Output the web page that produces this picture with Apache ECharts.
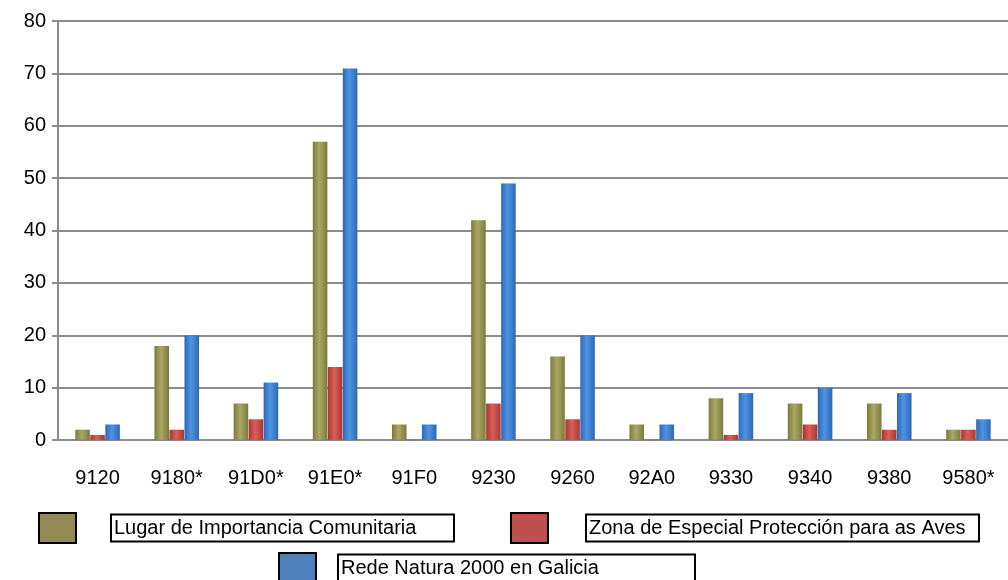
<!DOCTYPE html>
<html><head><meta charset="utf-8">
<script src="https://cdn.jsdelivr.net/npm/echarts@6/dist/echarts.min.js"></script>
<style>html,body{margin:0;padding:0;background:#fff}#c{width:1008px;height:580px}</style>
</head><body><div id="c"></div>
<script>
const categories = ['9120','9180*','91D0*','91E0*','91F0','9230','9260','92A0','9330','9340','9380','9580*'];
const seriesNames = ['Lugar de Importancia Comunitaria','Zona de Especial Protección para as Aves','Rede Natura 2000 en Galicia'];
const lic  = [2,18,7,57,3,42,16,3,8,7,7,2];
const zepa = [1,2,4,14,0,7,4,0,1,3,2,2];
const rede = [3,20,11,71,3,49,20,3,9,10,9,4];
const yTicks = [0,10,20,30,40,50,60,70,80];

const FONT = "'Liberation Sans Narrow','Liberation Sans',Arial,sans-serif";
function grad(edge, mid){
  return new echarts.graphic.LinearGradient(0,0,1,0,[
    {offset:0,color:edge},{offset:0.45,color:mid},{offset:1,color:edge}]);
}
const barColors = [grad('#7c7a3a','#aaa864'), grad('#a63632','#dc5e58'), grad('#2c68b6','#4f94e4')];
const legendColors = ['#948b54','#c0504d','#4f81bd'];

function mkLegend(i, left, top, gapW, boxW){
  return {
    data:[{name:seriesNames[i], itemStyle:{color:legendColors[i], borderColor:'#000', borderWidth:2}}],
    left:left, top:top, orient:'horizontal', padding:0,
    itemWidth:37, itemHeight:30, icon:'rect', selectedMode:false,
    formatter: n => '{g|}{b|' + n + '}',
    textStyle:{
      fontFamily:FONT, fontSize:20, color:'#000',
      rich:{
        g:{width:gapW},
        b:{width:boxW, height:27, lineHeight:27, borderColor:'#000', borderWidth:2,
           padding:[0,0,0,3], fontFamily:FONT, fontSize:20, color:'#000'}
      }
    }
  };
}

const series = [lic, zepa, rede].map((d,i)=>({
  name: seriesNames[i], type:'bar', data:d,
  barWidth:15, barGap:'0%',
  itemStyle:{color:barColors[i], borderColor:'rgba(0,0,0,0.08)', borderWidth:0.5},
  emphasis:{disabled:true}
}));

const chart = echarts.init(document.getElementById('c'));
chart.setOption({
  animation:false,
  color: legendColors,
  grid:{left:58, right:0, top:21, bottom:140, containLabel:false},
  legend:[
    mkLegend(0, 38, 512, 30, 340),
    mkLegend(1, 510, 512, 33, 390),
    mkLegend(2, 278, 552, 17, 354)
  ],
  xAxis:{
    type:'category', data:categories,
    axisLine:{lineStyle:{color:'#8c8c8c', width:2}},
    axisTick:{length:8, lineStyle:{color:'#8c8c8c', width:2}},
    axisLabel:{fontFamily:FONT, fontSize:20, color:'#000', margin:28}
  },
  yAxis:{
    type:'value', min:0, max:80, interval:10,
    axisLine:{show:true, lineStyle:{color:'#8c8c8c', width:2}},
    axisTick:{show:true, length:6, lineStyle:{color:'#8c8c8c', width:2}},
    axisLabel:{fontFamily:FONT, fontSize:20, color:'#000', margin:12,
      formatter: v => yTicks.includes(v) ? String(v) : ''},
    splitLine:{lineStyle:{color:'#8c8c8c', width:2}}
  },
  series: series
});
</script></body></html>
